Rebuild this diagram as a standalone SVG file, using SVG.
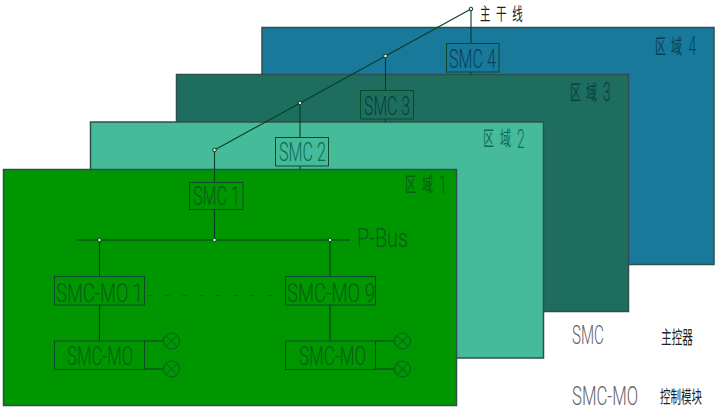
<svg xmlns="http://www.w3.org/2000/svg" width="718" height="410" viewBox="0 0 718 410">
<style>
.r{stroke:#2f4f4f;stroke-width:1.5}
.b{fill:none;stroke:#0a4a28;stroke-width:1}
.l{fill:none;stroke:#063f20;stroke-width:1.1}
.d{fill:#e8f4e0;stroke:#063f20;stroke-width:1}
text{font-family:Roboto,"Liberation Sans","Noto Sans CJK SC",sans-serif;font-size:25px;font-weight:300}
.cn{font-family:"Noto Sans CJK SC",sans-serif;font-size:20px;font-weight:400}
.n{font-family:Roboto,"Liberation Sans",sans-serif;font-size:25px;font-weight:300}
.t1{fill:#045e14}.t2{fill:#0f6a58}.t3{fill:#083f3a}.t4{fill:#08405c}.g{fill:#666}.k{fill:#222}
</style>
<g id="region4"><rect class="r" x="262" y="27.500" width="452" height="237" fill="#18799a"/><text class="cn t4" transform="matrix(.55 0 0 1 655 54)" x="0 29"><tspan>区域</tspan><tspan class="n" x="61" y="1">4</tspan></text></g>
<g id="region3"><rect class="r" x="176.500" y="74.500" width="452" height="237" fill="#1e6e60"/><text class="cn t3" transform="matrix(.55 0 0 1 570 100)" x="0 29"><tspan>区域</tspan><tspan class="n" x="60" y="1">3</tspan></text></g>
<g id="region2"><rect class="r" x="90.500" y="122" width="453" height="236" fill="#45bb9a"/><text class="cn t2" transform="matrix(.55 0 0 1 483 146)" x="0 31"><tspan>区域</tspan><tspan class="n" x="62" y="2">2</tspan></text></g>
<g id="region1"><rect class="r" x="3.500" y="169.500" width="453" height="236" fill="#009600"/><text class="cn t1" transform="matrix(.55 0 0 1 405 192)" x="0 31"><tspan>区域</tspan><tspan class="n" x="62" y="2">1</tspan></text></g>
<g id="connectors">
<path class="l" d="M471 9L214.500 150M471 9V43M471 72V75M385.500 56V90M385.500 119V122M300 103V137M300 166V169M214.500 150V182M214.500 209V240M76 240H350M99.500 240V276M99.500 305V341M330 240V276M330 305V341M144.500 341H164M144.500 369H164M375.500 341H395M375.500 369H395"/>
<path d="M148 295.500H285" fill="none" stroke="#0a7020" stroke-width="1" stroke-dasharray="5 12"/>
<circle class="d" cx="471" cy="9" r="1.800"/><circle class="d" cx="385.500" cy="56" r="1.800"/><circle class="d" cx="300" cy="103" r="1.800"/><circle class="d" cx="214.500" cy="150" r="1.800"/><circle class="d" cx="99.500" cy="240" r="1.800"/><circle class="d" cx="214.500" cy="240" r="1.800"/><circle class="d" cx="330" cy="240" r="1.800"/>
</g>
<g id="trunk-label"><text class="cn k" style="font-size:17px" transform="matrix(.62 0 0 1 480 20)" x="0 26 52">主干线</text></g>
<g id="smc4"><rect class="b" x="446.500" y="43.500" width="52.500" height="28.500"/><text class="t4" x="449" y="68" textLength="47" lengthAdjust="spacingAndGlyphs">SMC 4</text></g>
<g id="smc3"><rect class="b" x="360.500" y="90.500" width="53" height="28.500"/><text class="t3" x="364" y="115" textLength="46" lengthAdjust="spacingAndGlyphs">SMC 3</text></g>
<g id="smc2"><rect class="b" x="275.500" y="137.500" width="53" height="28.500"/><text class="t2" x="279" y="161" textLength="47" lengthAdjust="spacingAndGlyphs">SMC 2</text></g>
<g id="smc1"><rect class="b" x="189.500" y="182.500" width="53.500" height="27"/><text class="t1" x="193" y="205" textLength="47" lengthAdjust="spacingAndGlyphs">SMC 1</text></g>
<g id="pbus"><text class="t1" x="357" y="247" textLength="51" lengthAdjust="spacingAndGlyphs">P-Bus</text></g>
<g id="smcmo1"><rect class="b" x="54.500" y="276.500" width="90" height="28.500"/><text class="t1" x="56" y="302" textLength="87" lengthAdjust="spacingAndGlyphs">SMC-MO 1</text></g>
<g id="smcmo9"><rect class="b" x="285.500" y="276.500" width="90" height="28.500"/><text class="t1" x="287" y="302" textLength="88" lengthAdjust="spacingAndGlyphs">SMC-MO 9</text></g>
<g id="mo-left"><rect class="b" x="54.500" y="341" width="90" height="28.500"/><text class="t1" x="67" y="365" textLength="66" lengthAdjust="spacingAndGlyphs">SMC-MO</text></g>
<g id="mo-right"><rect class="b" x="285.500" y="341" width="90" height="28.500"/><text class="t1" x="299" y="365" textLength="67" lengthAdjust="spacingAndGlyphs">SMC-MO</text></g>
<g id="lamps" fill="none" stroke="#0a5a28" stroke-width="1">
<g id="lamp1"><circle cx="171.500" cy="341" r="8"/><path d="M165.800 335.300L177.200 346.700M177.200 335.300L165.800 346.700"/></g>
<g id="lamp2"><circle cx="171.500" cy="369" r="8"/><path d="M165.800 363.300L177.200 374.700M177.200 363.300L165.800 374.700"/></g>
<g id="lamp3"><circle cx="402.500" cy="341" r="8"/><path d="M396.800 335.300L408.200 346.700M408.200 335.300L396.800 346.700"/></g>
<g id="lamp4"><circle cx="402.500" cy="369" r="8"/><path d="M396.800 363.300L408.200 374.700M408.200 363.300L396.800 374.700"/></g>
</g>
<g id="legend">
<text class="g" transform="matrix(.6 0 0 1 572 344)" textLength="53.300" lengthAdjust="spacingAndGlyphs">SMC</text>
<text class="g" transform="matrix(.66 0 0 1 572 405)" textLength="100" lengthAdjust="spacingAndGlyphs">SMC-MO</text>
<text class="cn k" transform="matrix(.627 0 0 1.100 661 344)" style="font-size:17px" textLength="51" lengthAdjust="spacingAndGlyphs">主控器</text>
<text class="cn k" transform="matrix(.618 0 0 1.100 660 403)" style="font-size:16px" textLength="68" lengthAdjust="spacingAndGlyphs">控制模块</text>
</g>
</svg>
